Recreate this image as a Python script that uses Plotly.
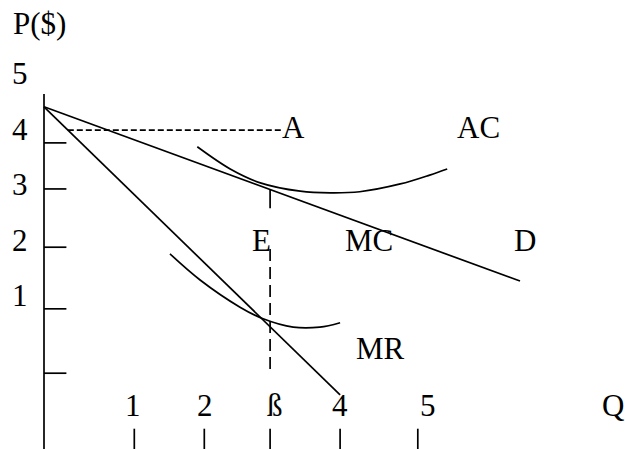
import plotly.graph_objects as go

# ---- data (Q units horizontally, P($) units vertically) ----
y_axis_q = [0, 0]
y_axis_p = [4.63, -1.9]

demand_q = [0.0, 6.8]
demand_p = [4.40, 1.26]

mr_q = [0.0, 4.23]
mr_p = [4.40, -0.79]

ac_q = [2.19, 2.66, 3.09, 3.66, 4.09, 4.51, 5.09, 5.51, 5.76]
ac_p = [3.68, 3.28, 3.03, 2.88, 2.85, 2.87, 3.01, 3.17, 3.28]

mc_q = [1.80, 2.23, 2.80, 3.13, 3.56, 3.94, 4.23]
mc_p = [1.75, 1.28, 0.79, 0.58, 0.43, 0.43, 0.51]

price_a_q = [0.34, 3.40]
price_a_p = [3.98, 3.98]

e_q = 3.23
e_solid_p = [2.90, 2.57]
e_dash_p = [1.84, -0.40]

y_tick_p = [3.75, 2.92, 1.87, 0.76, -0.40]
y_tick_len = 0.32
y_labels = ["5", "4", "3", "2", "1"]
y_label_p = [5.0, 4.0, 3.0, 2.0, 1.0]

x_tick_q = [1.29, 2.29, 3.23, 4.23, 5.34]
x_tick_p = [-1.40, -1.9]
x_labels = ["1", "2", "ß", "4", "5", "Q"]
x_label_q = [1.27, 2.30, 3.30, 4.23, 5.49, 8.13]
x_label_p = -0.99

curve_labels = ["A", "AC", "E", "MC", "D", "MR"]
curve_label_q = [3.56, 6.21, 3.11, 4.64, 6.87, 4.81]
curve_label_p = [4.02, 4.02, 2.00, 2.00, 2.00, 0.05]

FONT = dict(family="Liberation Serif, Times New Roman, serif", size=31, color="black")
LW = 1.7

fig = go.Figure()

def line(x, y, dash="solid", shape="linear"):
    fig.add_trace(go.Scatter(x=x, y=y, mode="lines",
                             line=dict(color="black", width=LW, dash=dash, shape=shape),
                             hoverinfo="skip", showlegend=False))

line(y_axis_q, y_axis_p)
line(demand_q, demand_p)
line(mr_q, mr_p)
line(ac_q, ac_p, shape="spline")
line(mc_q, mc_p, shape="spline")
line(price_a_q, price_a_p, dash="6px,3px")
line([e_q, e_q], e_solid_p)
line([e_q, e_q], e_dash_p, dash="12px,6px")
for p in y_tick_p:
    line([0, y_tick_len], [p, p])
for q in x_tick_q:
    line([q, q], x_tick_p)

annotations = []
annotations.append(dict(x=-0.07, y=5.91, text="P($)", showarrow=False, font=FONT))
for t, p in zip(y_labels, y_label_p):
    annotations.append(dict(x=-0.34, y=p, text=t, showarrow=False, font=FONT))
for t, q in zip(x_labels, x_label_q):
    annotations.append(dict(x=q, y=x_label_p, text=t, showarrow=False, font=FONT))
for t, q, p in zip(curve_labels, curve_label_q, curve_label_p):
    annotations.append(dict(x=q, y=p, text=t, showarrow=False, font=FONT))

fig.update_layout(
    width=625, height=449,
    margin=dict(l=0, r=0, t=0, b=0),
    paper_bgcolor="white", plot_bgcolor="white",
    xaxis=dict(range=[-44 / 70, (625 - 44) / 70], visible=False, fixedrange=True),
    yaxis=dict(range=[(351 - 449) / 55.5, 351 / 55.5], visible=False, fixedrange=True),
    annotations=annotations,
    showlegend=False,
    hovermode=False,
)

fig.write_html(
    "out.html",
    config={"displayModeBar": False, "staticPlot": True},
    post_script="document.body.style.margin='0';document.body.style.overflow='hidden';",
)
